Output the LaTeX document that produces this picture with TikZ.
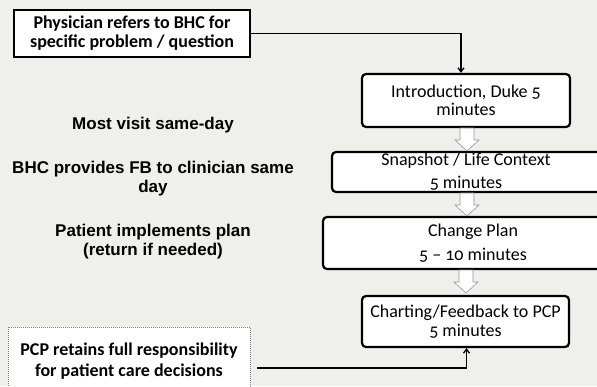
\documentclass[tikz,border=0pt]{standalone}
\usepackage{fontspec}
\setmainfont{Carlito}
\newfontfamily\stepface{Carlito}[Numbers=OldStyle, Ligatures=TeX]
\newfontfamily\arialbold{Liberation Sans}[UprightFont=* Bold]
\usetikzlibrary{arrows.meta}
\definecolor{paper}{RGB}{239,239,236}
\definecolor{hollowedge}{RGB}{150,150,150}
\tikzset{
  stepfont/.style={font=\stepface\fontsize{18}{18.5}\selectfont},
  stepbox/.style={draw=black, line width=2.2pt, fill=white, rounded corners=4pt,
    align=center, stepfont, inner sep=0pt},
  notebox/.style={draw=black, line width=2pt, fill=white, align=center,
    font=\bfseries\fontsize{18}{19}\selectfont, inner sep=0pt},
  sidenote/.style={align=center, font=\arialbold\fontsize{17}{19}\selectfont},
  link/.style={line width=1.3pt, -{Straight Barb[length=4pt,width=6pt]}},
  hollow/.style={draw=hollowedge, fill=white, line width=0.6pt}
}
\newcommand{\downarrowshape}[2]{% centre x, top y
  \path[hollow] (#1-7,#2) -- (#1+7,#2) -- (#1+7,#2+12) -- (#1+12,#2+12)
    -- (#1,#2+23) -- (#1-12,#2+12) -- (#1-7,#2+12) -- cycle;}
\begin{document}
\begin{tikzpicture}[x=1pt,y=-1pt]
\useasboundingbox (0,0) rectangle (597,386);
\clip (0,0) rectangle (597,386);
\fill[paper] (0,0) rectangle (597,386);

% referral box
\node[notebox, minimum width=236pt, minimum height=47pt] (refer) at (132,33.5)
  {Physician refers to BHC for\\specific problem / question};

% visit steps
\node[stepbox, minimum width=208pt, minimum height=53pt] (intro) at (466,100.5)
  {Introduction, Duke 5\\minutes};
\node[stepbox, minimum width=290pt, minimum height=40pt] (snap) at (477,172)
  {};
\node[stepfont, anchor=base] (snaptxt1) at (466,165) {Snapshot / Life Context};
\node[stepfont, anchor=base] (snaptxt2) at (466,188) {5 minutes};
\node[stepbox, minimum width=300pt, minimum height=52pt,
  font=\stepface\fontsize{18}{24}\selectfont] (plan) at (473,243)
  {Change Plan\\5 – 10 minutes};
\node[stepbox, minimum width=207pt, minimum height=51pt] (chart) at (465.5,321.5)
  {Charting/Feedback to PCP\\5 minutes};

% responsibility box
\node[draw=gray, dash pattern=on 1pt off 1pt, line width=0.8pt, fill=white,
  minimum width=242pt, minimum height=70pt, inner sep=0pt] (pcp) at (129,362)
  {};
\node[font=\bfseries\fontsize{18}{21}\selectfont, anchor=base] (pcptxt) at (129,355)
  {PCP retains full responsibility};
\node[font=\bfseries\fontsize{18}{21}\selectfont, anchor=base] (pcptxt2) at (129,376)
  {for patient care decisions};

% side notes
\node[sidenote] (n1) at (153,125) {Most visit same-day};
\node[sidenote] (n2) at (153,178.5) {BHC provides FB to clinician same\\day};
\node[sidenote] (n3) at (153,241.5) {Patient implements plan\\(return if needed)};

% connectors
\draw[link] (refer.east) -| ([xshift=-5pt]intro.north);
\coordinate (pcpout) at (257,368);
\draw[link] (pcpout) -| ([xshift=1pt]chart.south);

% hollow step arrows
\downarrowshape{467}{128}
\downarrowshape{467}{193}
\downarrowshape{466}{270}
\end{tikzpicture}
\end{document}
